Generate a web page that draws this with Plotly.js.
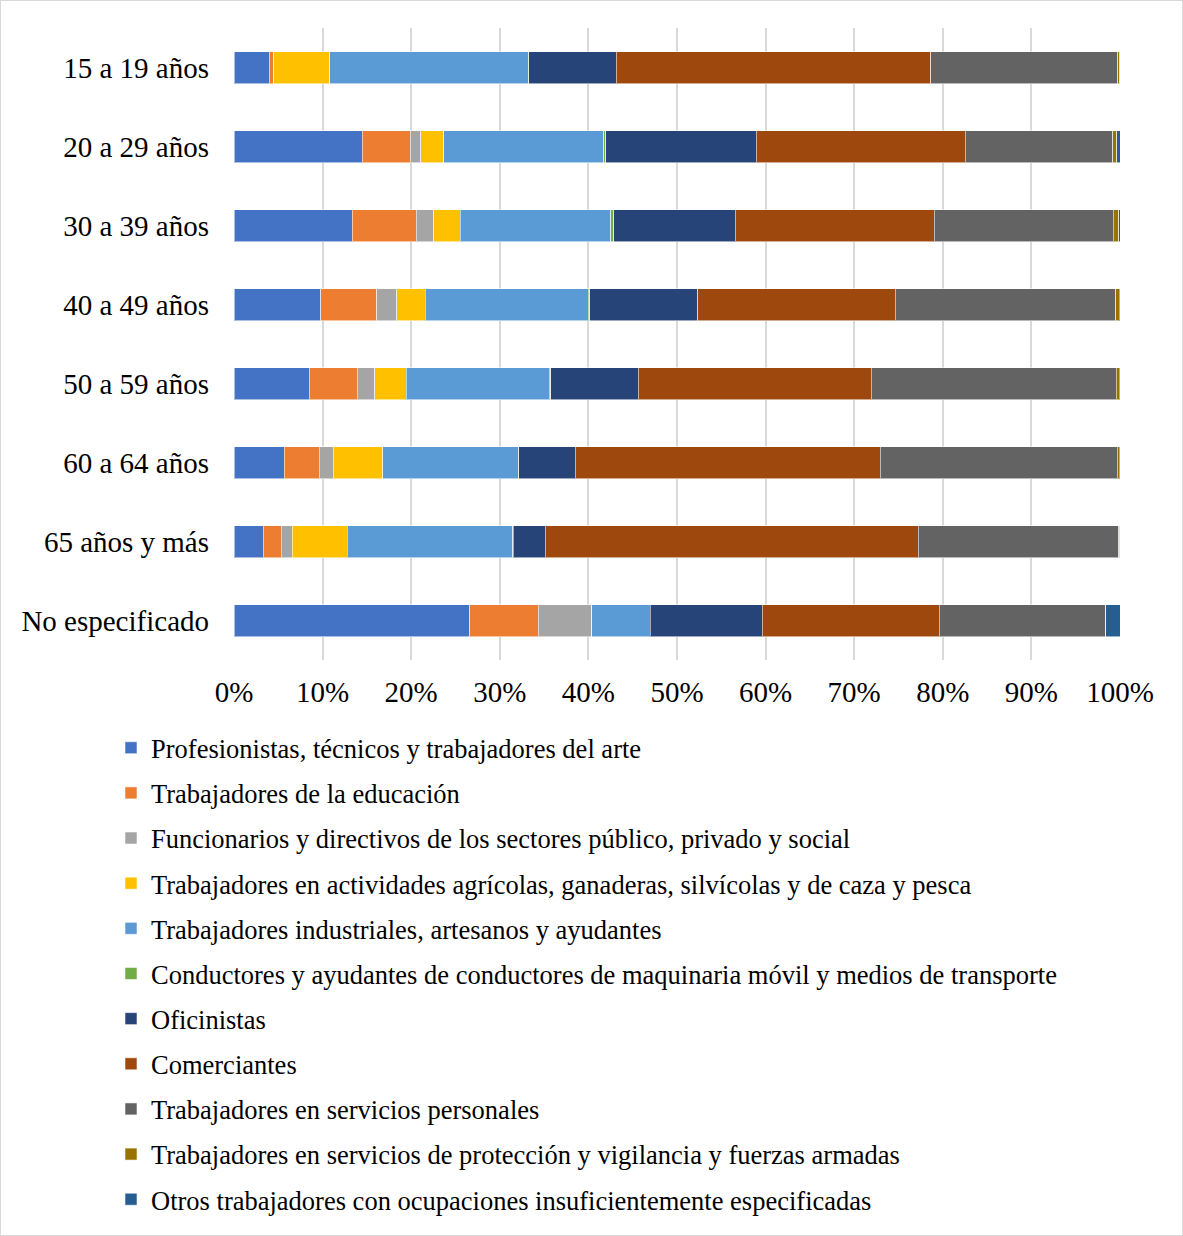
<!DOCTYPE html>
<html>
<head>
<meta charset="utf-8">
<script src="https://cdn.plot.ly/plotly-3.0.1.min.js"></script>
<style>
html,body{margin:0;padding:0;background:#fff;}
#wrap{position:relative;width:1183px;height:1236px;}
#chart{position:absolute;left:0;top:0;width:1183px;height:1236px;}
#frame{position:absolute;left:0;top:0;width:1181px;height:1234px;border:1px solid #d9d9d9;pointer-events:none;}
</style>
</head>
<body>
<div id="wrap"><div id="chart"></div><div id="frame"></div></div>
<script>
const categories = ['15 a 19 años','20 a 29 años','30 a 39 años','40 a 49 años','50 a 59 años','60 a 64 años','65 años y más','No especificado'];

const seriesNames = [
  'Profesionistas, técnicos y trabajadores del arte',
  'Trabajadores de la educación',
  'Funcionarios y directivos de los sectores público, privado y social',
  'Trabajadores en actividades agrícolas, ganaderas, silvícolas y de caza y pesca',
  'Trabajadores industriales, artesanos y ayudantes',
  'Conductores y ayudantes de conductores de maquinaria móvil y medios de transporte',
  'Oficinistas',
  'Comerciantes',
  'Trabajadores en servicios personales',
  'Trabajadores en servicios de protección y vigilancia y fuerzas armadas',
  'Otros trabajadores con ocupaciones insuficientemente especificadas'
];

const profesionistas = [4.0, 14.5, 13.35, 9.8, 8.5, 5.7, 3.3, 26.6];
const educacion      = [0.5, 5.4, 7.2, 6.3, 5.4, 3.9, 2.05, 7.75];
const funcionarios   = [0, 1.2, 2.0, 2.3, 2.0, 1.6, 1.25, 6.05];
const agricolas      = [6.3, 2.6, 3.0, 3.2, 3.55, 5.6, 6.2, 0];
const industriales   = [22.4, 18.1, 17.0, 18.4, 16.15, 15.3, 18.65, 6.6];
const conductores    = [0.05, 0.2, 0.3, 0.15, 0.15, 0.05, 0.05, 0];
const oficinistas    = [9.9, 17.0, 13.7, 12.2, 9.9, 6.4, 3.65, 12.6];
const comerciantes   = [35.5, 23.6, 22.5, 22.3, 26.3, 34.4, 42.1, 20.0];
const servicios      = [21.1, 16.7, 20.2, 24.9, 27.7, 26.8, 22.6, 18.8];
const proteccion     = [0.2, 0.45, 0.6, 0.4, 0.3, 0.2, 0.1, 0];
const otros          = [0.05, 0.35, 0.15, 0.1, 0.1, 0.1, 0.05, 1.6];

const xTickVals = [0,10,20,30,40,50,60,70,80,90,100];
const xTickText = ['0%','10%','20%','30%','40%','50%','60%','70%','80%','90%','100%'];

const seriesValues = [profesionistas, educacion, funcionarios, agricolas, industriales,
  conductores, oficinistas, comerciantes, servicios, proteccion, otros];
const colors = ['#4472C4','#ED7D31','#A5A5A5','#FFC000','#5B9BD5','#70AD47','#264478','#9E480E','#636363','#997300','#255E91'];

const FONT = '"Liberation Serif", "Times New Roman", serif';

const traces = seriesValues.map((vals, i) => ({
  type: 'bar',
  orientation: 'h',
  name: seriesNames[i],
  legendgroup: 'g' + i,
  x: vals,
  y: categories,
  marker: {color: colors[i], line: {color: 'rgba(255,255,255,0.55)', width: 1}},
  hoverinfo: 'name+x'
}));

const layout = {
  width: 1183,
  height: 1236,
  margin: {l: 234, r: 63, t: 28, b: 576, autoexpand: false},
  paper_bgcolor: '#fff',
  plot_bgcolor: '#fff',
  barmode: 'stack',
  barnorm: 'percent',
  bargap: 0.595,
  font: {family: FONT, color: '#000', size: 26},
  xaxis: {
    range: [0, 100],
    tickmode: 'array',
    tickvals: xTickVals,
    ticktext: xTickText,
    tickangle: 0,
    automargin: false,
    showgrid: true,
    gridcolor: '#d9d9d9',
    gridwidth: 2,
    zeroline: false,
    showline: false,
    ticks: '',
    tickfont: {family: FONT, size: 29, color: '#000'},
    ticklabelstandoff: 12,
    fixedrange: true
  },
  yaxis: {
    type: 'category',
    autorange: 'reversed',
    automargin: false,
    showgrid: false,
    zeroline: false,
    showline: false,
    ticks: '',
    tickfont: {family: FONT, size: 29, color: '#000'},
    ticklabelstandoff: 24,
    fixedrange: true
  },
  legend: {
    orientation: 'v',
    traceorder: 'grouped',
    tracegroupgap: 7.7,
    xref: 'container',
    yref: 'container',
    x: 111/1183,
    xanchor: 'left',
    y: 1 - 724/1236,
    yanchor: 'top',
    font: {family: FONT, size: 26.5, color: '#000'},
    bgcolor: 'rgba(0,0,0,0)',
    itemwidth: 30
  },
  showlegend: true
};

Plotly.newPlot('chart', traces, layout, {displayModeBar: false, staticPlot: true});
</script>
</body>
</html>
